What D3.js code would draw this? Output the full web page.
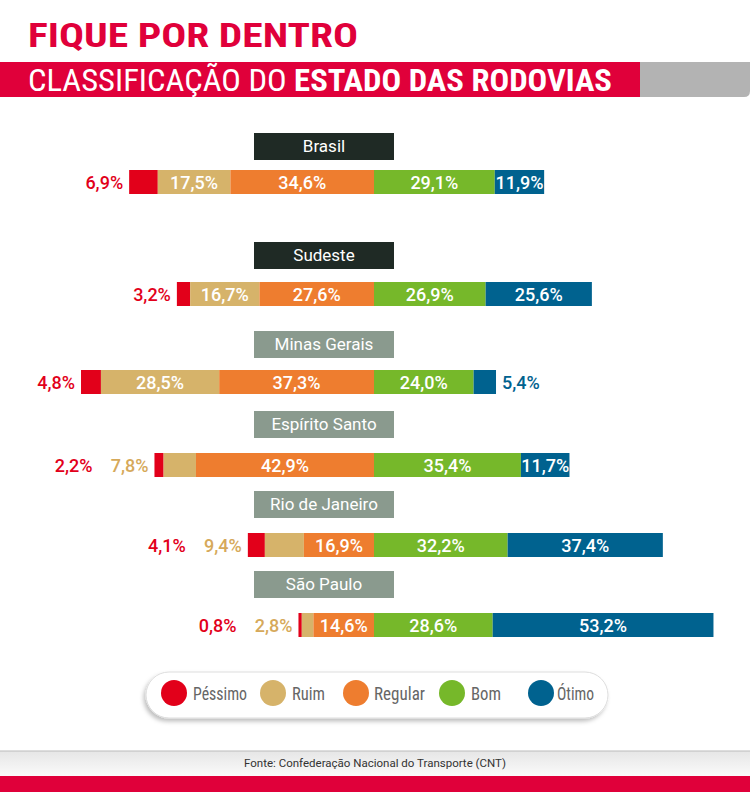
<!DOCTYPE html>
<html><head><meta charset="utf-8">
<script src="https://cdn.jsdelivr.net/npm/d3@7"></script>
<style>body{margin:0;background:#fff}svg{display:block}</style>
</head><body>
<script>
const regions = ["Brasil","Sudeste","Minas Gerais","Espírito Santo","Rio de Janeiro","São Paulo"];
const categories = ["Péssimo","Ruim","Regular","Bom","Ótimo"];
const pessimo = [6.9,3.2,4.8,2.2,4.1,0.8];
const ruim    = [17.5,16.7,28.5,7.8,9.4,2.8];
const regular = [34.6,27.6,37.3,42.9,16.9,14.6];
const bom     = [29.1,26.9,24.0,35.4,32.2,28.6];
const otimo   = [11.9,25.6,5.4,11.7,37.4,53.2];
const colors = ["#e2001a","#d6b36a","#ee7d2f","#76b82a","#00628f"];
const labelColors = ["#e2001a","#d6a95a","#ee7d2f","#76b82a","#00628f"];

const W=750,H=792;
const svg=d3.select("body").append("svg").attr("width",W).attr("height",H);
const cond="'Liberation Sans Narrow','Roboto Condensed','Roboto',sans-serif";
const lab="Roboto,sans-serif";

// header
svg.append("text").attr("x",28).attr("y",47).attr("fill","#e0003a")
  .attr("textLength",330).attr("lengthAdjust","spacingAndGlyphs")
  .style("font-family",cond).style("font-weight","bold").style("font-size","33px").text("FIQUE POR DENTRO");
const band=svg.append("g");
band.append("path").attr("d","M630,62H750V91Q750,97 744,97H630Z").attr("fill","#b3b3b3");
band.append("rect").attr("x",0).attr("y",62).attr("width",640).attr("height",35).attr("fill","#e0003a");
const t2=svg.append("text").attr("x",28).attr("y",91).attr("fill","#fff")
  .attr("textLength",584).attr("lengthAdjust","spacingAndGlyphs")
  .style("font-family",cond).style("font-size","31px");
t2.append("tspan").text("CLASSIFICAÇÃO DO ");
t2.append("tspan").style("font-weight","bold").text("ESTADO DAS RODOVIAS");

const x=d3.scaleLinear().domain([-100,100]).range([374-415,374+415]);
const boxY=[133,242,331,411,491,571];
const barY=[170,282,370,453,533,613];
const series=[pessimo,ruim,regular,bom,otimo];
const fmt=v=>d3.format(".1f")(v).replace(".",",")+"%";

function label(g,xp,y,anchor,fill,txt){
  g.append("text").attr("x",xp).attr("y",y).attr("text-anchor",anchor).attr("fill",fill)
   .style("font-family",lab).style("font-weight","500").style("font-size","18px").text(txt);
}

regions.forEach((r,i)=>{
  const g=svg.append("g");
  g.append("rect").attr("x",254).attr("y",boxY[i]).attr("width",140).attr("height",27)
    .attr("fill",i<2?"#1f2a25":"#8a9a8e");
  g.append("text").attr("x",324).attr("y",boxY[i]+19).attr("text-anchor","middle").attr("fill","#fff")
    .style("font-family",lab).style("font-size","17px").text(r);
  const vals=series.map(s=>s[i]);
  let start=-(vals[0]+vals[1]+vals[2]);
  let leftCursor=x(start)-6;
  const segs=vals.map((v,k)=>{const s={k,v,x0:start,x1:start+v};start+=v;return s;});
  segs.forEach(s=>{
    g.append("rect").attr("x",x(s.x0)).attr("y",barY[i]).attr("width",x(s.x1)-x(s.x0)).attr("height",24).attr("fill",colors[s.k]);
  });
  [1,0].forEach(k=>{
    const s=segs[k];
    if(s.v<10){ label(g,leftCursor,barY[i]+19,"end",labelColors[k],fmt(s.v)); leftCursor-=56; }
  });
  segs.forEach(s=>{
    if(s.v>=10) label(g,(x(s.x0)+x(s.x1))/2,barY[i]+19,"middle","#fff",fmt(s.v));
    else if(s.k===4) label(g,x(s.x1)+6,barY[i]+19,"start",labelColors[4],fmt(s.v));
  });
});

// legend
const defs=svg.append("defs");
const f=defs.append("filter").attr("id","sh").attr("x","-10%").attr("y","-30%").attr("width","120%").attr("height","170%");
f.append("feDropShadow").attr("dx",-2).attr("dy",3).attr("stdDeviation",2).attr("flood-color","#000").attr("flood-opacity",0.25);
svg.append("rect").attr("x",146).attr("y",672).attr("width",462).attr("height",46).attr("rx",23)
  .attr("fill","#fff").attr("stroke","#ddd").attr("filter","url(#sh)");
const circX=[174,273,356,452,541];
const textX=[193,292,374,471,557];
const textW=[54,33,51,30,37];
categories.forEach((c,k)=>{
  svg.append("circle").attr("cx",circX[k]).attr("cy",693).attr("r",13).attr("fill",colors[k]);
  svg.append("text").attr("x",textX[k]).attr("y",700).attr("fill","#666")
    .attr("textLength",textW[k]).attr("lengthAdjust","spacingAndGlyphs")
    .style("font-family",cond).style("font-size","19px").text(c);
});

// footer
const lg=defs.append("linearGradient").attr("id","fg").attr("x1",0).attr("x2",0).attr("y1",0).attr("y2",1);
lg.append("stop").attr("offset",0).attr("stop-color","#e6e6e6");
lg.append("stop").attr("offset",1).attr("stop-color","#fafafa");
svg.append("rect").attr("x",0).attr("y",751).attr("width",W).attr("height",25).attr("fill","url(#fg)");
svg.append("line").attr("x1",0).attr("x2",W).attr("y1",751).attr("y2",751).attr("stroke","#bbb");
svg.append("text").attr("x",375).attr("y",767).attr("text-anchor","middle").attr("fill","#333")
  .style("font-family",lab).style("font-size","11.5px").text("Fonte: Confederação Nacional do Transporte (CNT)");
svg.append("rect").attr("x",0).attr("y",776).attr("width",W).attr("height",16).attr("fill","#e0003a");
</script>
</body></html>
